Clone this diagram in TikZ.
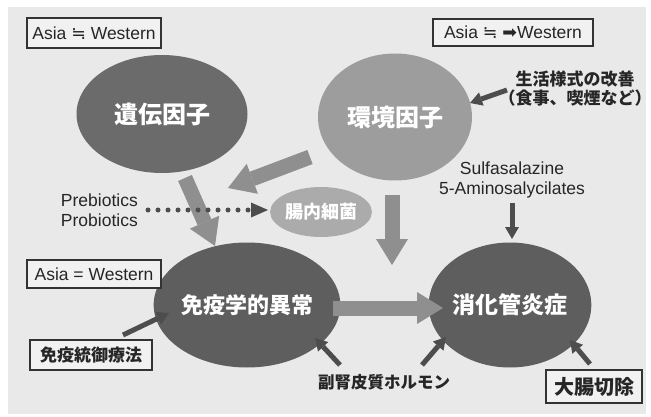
\documentclass[tikz,border=0pt]{standalone}
\usepackage{fontspec}
\setmainfont{Liberation Sans}
\newfontfamily\jp{Noto Sans CJK JP}
\newfontfamily\dv{DejaVu Sans}
\usetikzlibrary{shapes.geometric,arrows.meta}
\definecolor{panel}{HTML}{E9E9E9}
\definecolor{boxfill}{HTML}{F1F1F1}
\definecolor{dark}{HTML}{5E5E5E}
\definecolor{gene}{HTML}{6B6B6B}
\definecolor{env}{HTML}{9D9D9D}
\definecolor{bact}{HTML}{ABABAB}
\definecolor{bigarrow}{HTML}{8F8F8F}
\definecolor{smallarrow}{HTML}{4D4D4D}
\begin{document}
\begin{tikzpicture}[x=1pt,y=-1pt,
  ell/.style={ellipse, inner sep=0pt, text=white, font=\jp\bfseries\fontsize{24}{28}\selectfont},
  box/.style={draw=black!80, line width=1.1pt, fill=boxfill, inner sep=0pt},
  latin/.style={font=\fontsize{17.5}{20}\selectfont, text=black!85},
  lbl/.style={font=\jp\bfseries\fontsize{17}{20}\selectfont, text=black!85},
  big/.style={draw=bigarrow, line width=15pt, -{Triangle[length=26pt,width=32pt,line width=0pt]}},
  small/.style={draw=smallarrow, line width=5pt, -{Triangle[length=12pt,width=14pt,line width=0pt]}},
  dots/.style={draw=smallarrow, line width=5pt, line cap=round, dash pattern=on 0pt off 10pt, -{Triangle[length=17pt,width=15pt,line width=0pt]}}
]
\useasboundingbox (0,0) rectangle (651,417);
\fill[white] (0,0) rectangle (651,417);
\fill[panel] (8,7) rectangle (646,414);

% ellipses
\node[ell, fill=gene, minimum width=171pt, minimum height=118pt] (gene) at (162,114) {遺伝因子};
\node[ell, fill=env, minimum width=154pt, minimum height=127pt] (env) at (395,117) {環境因子};
\node[ell, fill=dark, minimum width=150pt, minimum height=125pt, font=\jp\bfseries\fontsize{22}{26}\selectfont] (imm) at (247,305) {免疫学的異常};
\node[ell, fill=dark, minimum width=134pt, minimum height=125pt, font=\jp\bfseries\fontsize{23}{27}\selectfont] (ibd) at (510,305) {消化管炎症};
\node[ell, fill=bact, minimum width=97pt, minimum height=50pt, font=\jp\bfseries\fontsize{18}{22}\selectfont] (bact) at (321,212) {腸内細菌};

% boxes
\node[box, latin, minimum width=134pt, minimum height=30pt] (b1) at (94,33) {Asia {\dv ≒} Western};
\node[box, latin, minimum width=160pt, minimum height=27pt] (b2) at (513,32.5) {Asia {\dv ≒} {\dv ➡}Western};
\node[box, latin, minimum width=134pt, minimum height=28pt] (b3) at (94,274) {Asia = Western};
\node[box, lbl, minimum width=122pt, minimum height=30pt] (ther) at (91,355) {免疫統御療法};
\node[box, lbl, minimum width=96pt, minimum height=33pt, font=\jp\bfseries\fontsize{20}{24}\selectfont] (col) at (594,386.5) {大腸切除};

% labels
\node[lbl, align=center, inner sep=0pt] (life) at (575,88.5) {生活様式の改善\\[-1pt]（食事、喫煙など）};
\node[latin, align=center, inner sep=0pt] (sulfa) at (512,180) {Sulfasalazine\\5-Aminosalycilates};
\node[latin, align=right, inner sep=0pt, anchor=east] (pro) at (138,210) {Prebiotics\\Probiotics};
\node[lbl, inner sep=0pt, font=\jp\bfseries\fontsize{16.5}{20}\selectfont] (ster) at (384,382) {副腎皮質ホルモン};

% coordinates
\coordinate (a1s) at (310,157); \coordinate (a1e) at (228,188);
\coordinate (a2s) at (185,178); \coordinate (a2e) at (215,246);
\coordinate (a3s) at (392,195); \coordinate (a3e) at (392,265);
\coordinate (a4s) at (333,308); \coordinate (a4e) at (443,308);
\coordinate (l1) at (507,90);  \coordinate (l2) at (470,103);
\coordinate (s1) at (512,203); \coordinate (s2) at (512,239);
\coordinate (t1) at (123,335); \coordinate (t2) at (169,313);
\coordinate (h1) at (340,365); \coordinate (h2) at (315,338);
\coordinate (h3) at (422,365); \coordinate (h4) at (446,337);
\coordinate (c1) at (590,364); \coordinate (c2) at (570,340);
\coordinate (d1) at (148,210); \coordinate (d2) at (268,210);

% big arrows
\draw[big] (a1s) -- (a1e);
\draw[big] (a2s) -- (a2e);
\draw[big] (a3s) -- (a3e);
\draw[big] (a4s) -- (a4e);

% small arrows
\draw[small] (l1) -- (l2);
\draw[small] (s1) -- (s2);
\draw[small] (t1) -- (t2);
\draw[small] (h1) -- (h2);
\draw[small] (h3) -- (h4);
\draw[small] (c1) -- (c2);

% dotted arrow
\draw[dots] (d1) -- (d2);
\end{tikzpicture}
\end{document}
